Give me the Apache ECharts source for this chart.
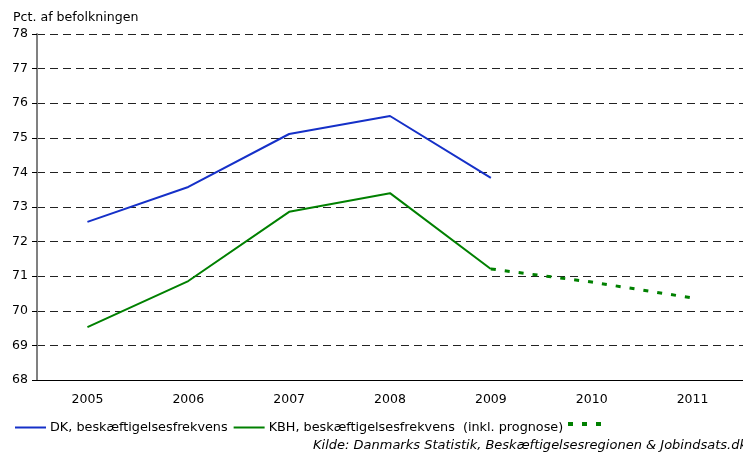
<!DOCTYPE html>
<html>
<head>
<meta charset="UTF-8">
<title>Beskæftigelsesfrekvens</title>
<script src="https://cdn.jsdelivr.net/npm/echarts@6/dist/echarts.min.js"></script>
<style>
  html, body { margin: 0; padding: 0; background: #fff; }
  #chart { width: 743px; height: 455px; }
</style>
</head>
<body>
<div id="chart"></div>
<script>
// data
var years = ['2005', '2006', '2007', '2008', '2009', '2010', '2011'];
var dkValues = [72.57, 73.58, 75.11, 75.63, 73.84, null, null];
var kbhValues = [69.53, 70.86, 72.86, 73.40, 71.21, null, null];
var kbhPrognose = [null, null, null, null, 71.21, 70.83, 70.37];

var fontName = 'DejaVu Sans, Verdana, sans-serif';

var myChart = echarts.init(document.getElementById('chart'));

var option = {
  animation: false,
  title: [
    {
      text: 'Pct. af befolkningen',
      left: 8, top: 6,
      textStyle: { fontFamily: fontName, fontSize: 12.6, fontWeight: 'normal', color: '#000' }
    },
    {
      text: 'Kilde: Danmarks Statistik, Beskæftigelsesregionen & Jobindsats.dk',
      left: 308, top: 434,
      textStyle: { fontFamily: fontName, fontSize: 13, fontStyle: 'italic', fontWeight: 'normal', color: '#000' }
    }
  ],
  grid: { left: 37, right: 0, top: 34, bottom: 75 },
  legend: {
    left: 10, top: 416,
    itemWidth: 31, itemHeight: 2, itemGap: 6,
    textStyle: { fontFamily: fontName, fontSize: 12.8, color: '#000', padding: [0, 0, 0, -1] },
    data: [
      { name: 'DK, beskæftigelsesfrekvens', icon: 'rect' },
      { name: 'KBH, beskæftigelsesfrekvens  (inkl. prognose)', icon: 'rect' }
    ]
  },
  xAxis: {
    type: 'category',
    data: years,
    boundaryGap: true,
    axisLine: { lineStyle: { color: '#000', width: 1 } },
    axisTick: { alignWithLabel: false, length: 5, lineStyle: { color: '#000' } },
    axisLabel: { margin: 13, fontFamily: fontName, fontSize: 12.5, color: '#000' },
    splitLine: { show: false }
  },
  yAxis: {
    type: 'value',
    min: 68, max: 78, interval: 1,
    axisLine: { show: true, lineStyle: { color: '#808080', width: 2 } },
    axisTick: { show: true, length: 5, lineStyle: { color: '#000' } },
    axisLabel: { margin: 9, fontFamily: fontName, fontSize: 12.5, color: '#000' },
    splitLine: { show: true, lineStyle: { color: '#222', width: 1, type: [8, 5] } }
  },
  series: [
    {
      name: 'DK, beskæftigelsesfrekvens',
      type: 'line',
      data: dkValues,
      symbol: 'none',
      itemStyle: { color: '#1530c8' },
      lineStyle: { color: '#1530c8', width: 2 }
    },
    {
      name: 'KBH, beskæftigelsesfrekvens  (inkl. prognose)',
      type: 'line',
      data: kbhValues,
      symbol: 'none',
      itemStyle: { color: '#008000' },
      lineStyle: { color: '#008000', width: 2 }
    },
    {
      name: 'prognose',
      type: 'line',
      data: kbhPrognose,
      symbol: 'none',
      itemStyle: { color: '#008000' },
      lineStyle: { color: '#008000', width: 3, type: [5, 9], cap: 'butt' }
    }
  ],
  graphic: [
    // dotted legend marker after the KBH legend text
    { type: 'rect', left: 568, top: 422, shape: { width: 5, height: 4 }, style: { fill: '#008000' } },
    { type: 'rect', left: 582, top: 422, shape: { width: 5, height: 4 }, style: { fill: '#008000' } },
    { type: 'rect', left: 596, top: 422, shape: { width: 5, height: 4 }, style: { fill: '#008000' } }
  ]
};

myChart.setOption(option);
</script>
</body>
</html>
